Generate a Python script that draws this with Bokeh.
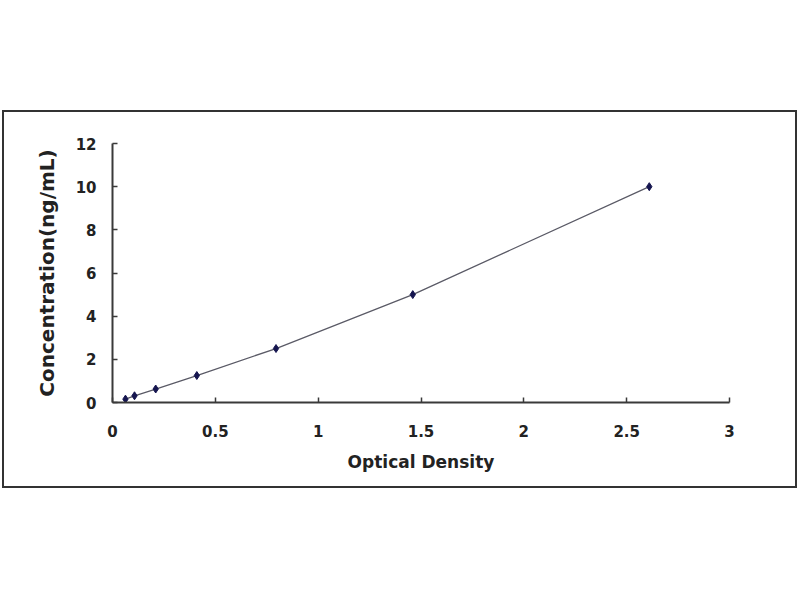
from bokeh.plotting import figure
from bokeh.models import Range1d, FixedTicker, Spacer
from bokeh.layouts import column, row
from bokeh.embed import file_html
from bokeh.resources import INLINE

# standard curve points
od = [0.063, 0.107, 0.21, 0.41, 0.795, 1.46, 2.61]
conc = [0.156, 0.312, 0.625, 1.25, 2.5, 5.0, 10.0]

x_ticks = [0, 0.5, 1, 1.5, 2, 2.5, 3]
y_ticks = [0, 2, 4, 6, 8, 10, 12]

FONT = "DejaVu Sans"
INK = "#222222"

p = figure(width=791, height=374, output_backend="svg", toolbar_location=None,
           x_range=Range1d(0, 3), y_range=Range1d(0, 12),
           min_border_left=108, min_border_right=66,
           min_border_top=31, min_border_bottom=84)
p.outline_line_color = None
p.grid.grid_line_color = None
p.background_fill_color = "white"
p.border_fill_color = "white"

p.line(od, conc, line_color="#5a5a66", line_width=1.3)
p.scatter(od, conc, marker="diamond", size=8, fill_color="#15154f",
          line_color="#15154f")

p.xaxis.ticker = FixedTicker(ticks=x_ticks)
p.yaxis.ticker = FixedTicker(ticks=y_ticks)
p.xaxis.major_label_overrides = {0: "0", 0.5: "0.5", 1: "1", 1.5: "1.5",
                                 2: "2", 2.5: "2.5", 3: "3"}

p.xaxis.axis_label = "Optical Density"
p.yaxis.axis_label = "Concentration(ng/mL)"

for ax in (p.xaxis, p.yaxis):
    ax.axis_line_color = "#3a3a3a"
    ax.axis_line_width = 2
    ax.major_tick_line_color = "#3a3a3a"
    ax.major_tick_line_width = 1.5
    ax.major_tick_in = 5
    ax.major_tick_out = 0
    ax.minor_tick_line_color = None
    ax.major_label_text_font = FONT
    ax.major_label_text_font_style = "bold"
    ax.major_label_text_font_size = "15px"
    ax.major_label_text_color = INK
    ax.axis_label_text_font = FONT
    ax.axis_label_text_font_style = "bold"
    ax.axis_label_text_font_size = "17px"
    ax.axis_label_text_color = INK

p.yaxis.axis_label_text_font_size = "20px"

p.xaxis.major_label_standoff = 22
p.xaxis.axis_label_standoff = 12
p.yaxis.major_label_standoff = 16
p.yaxis.axis_label_standoff = 14

# framed chart box, placed like in the source image
boxed = column(p, styles={"border": "2px solid #333333"})
page = column(Spacer(height=110), row(Spacer(width=2), boxed))

open("out.html", "w").write(file_html(page, INLINE))
